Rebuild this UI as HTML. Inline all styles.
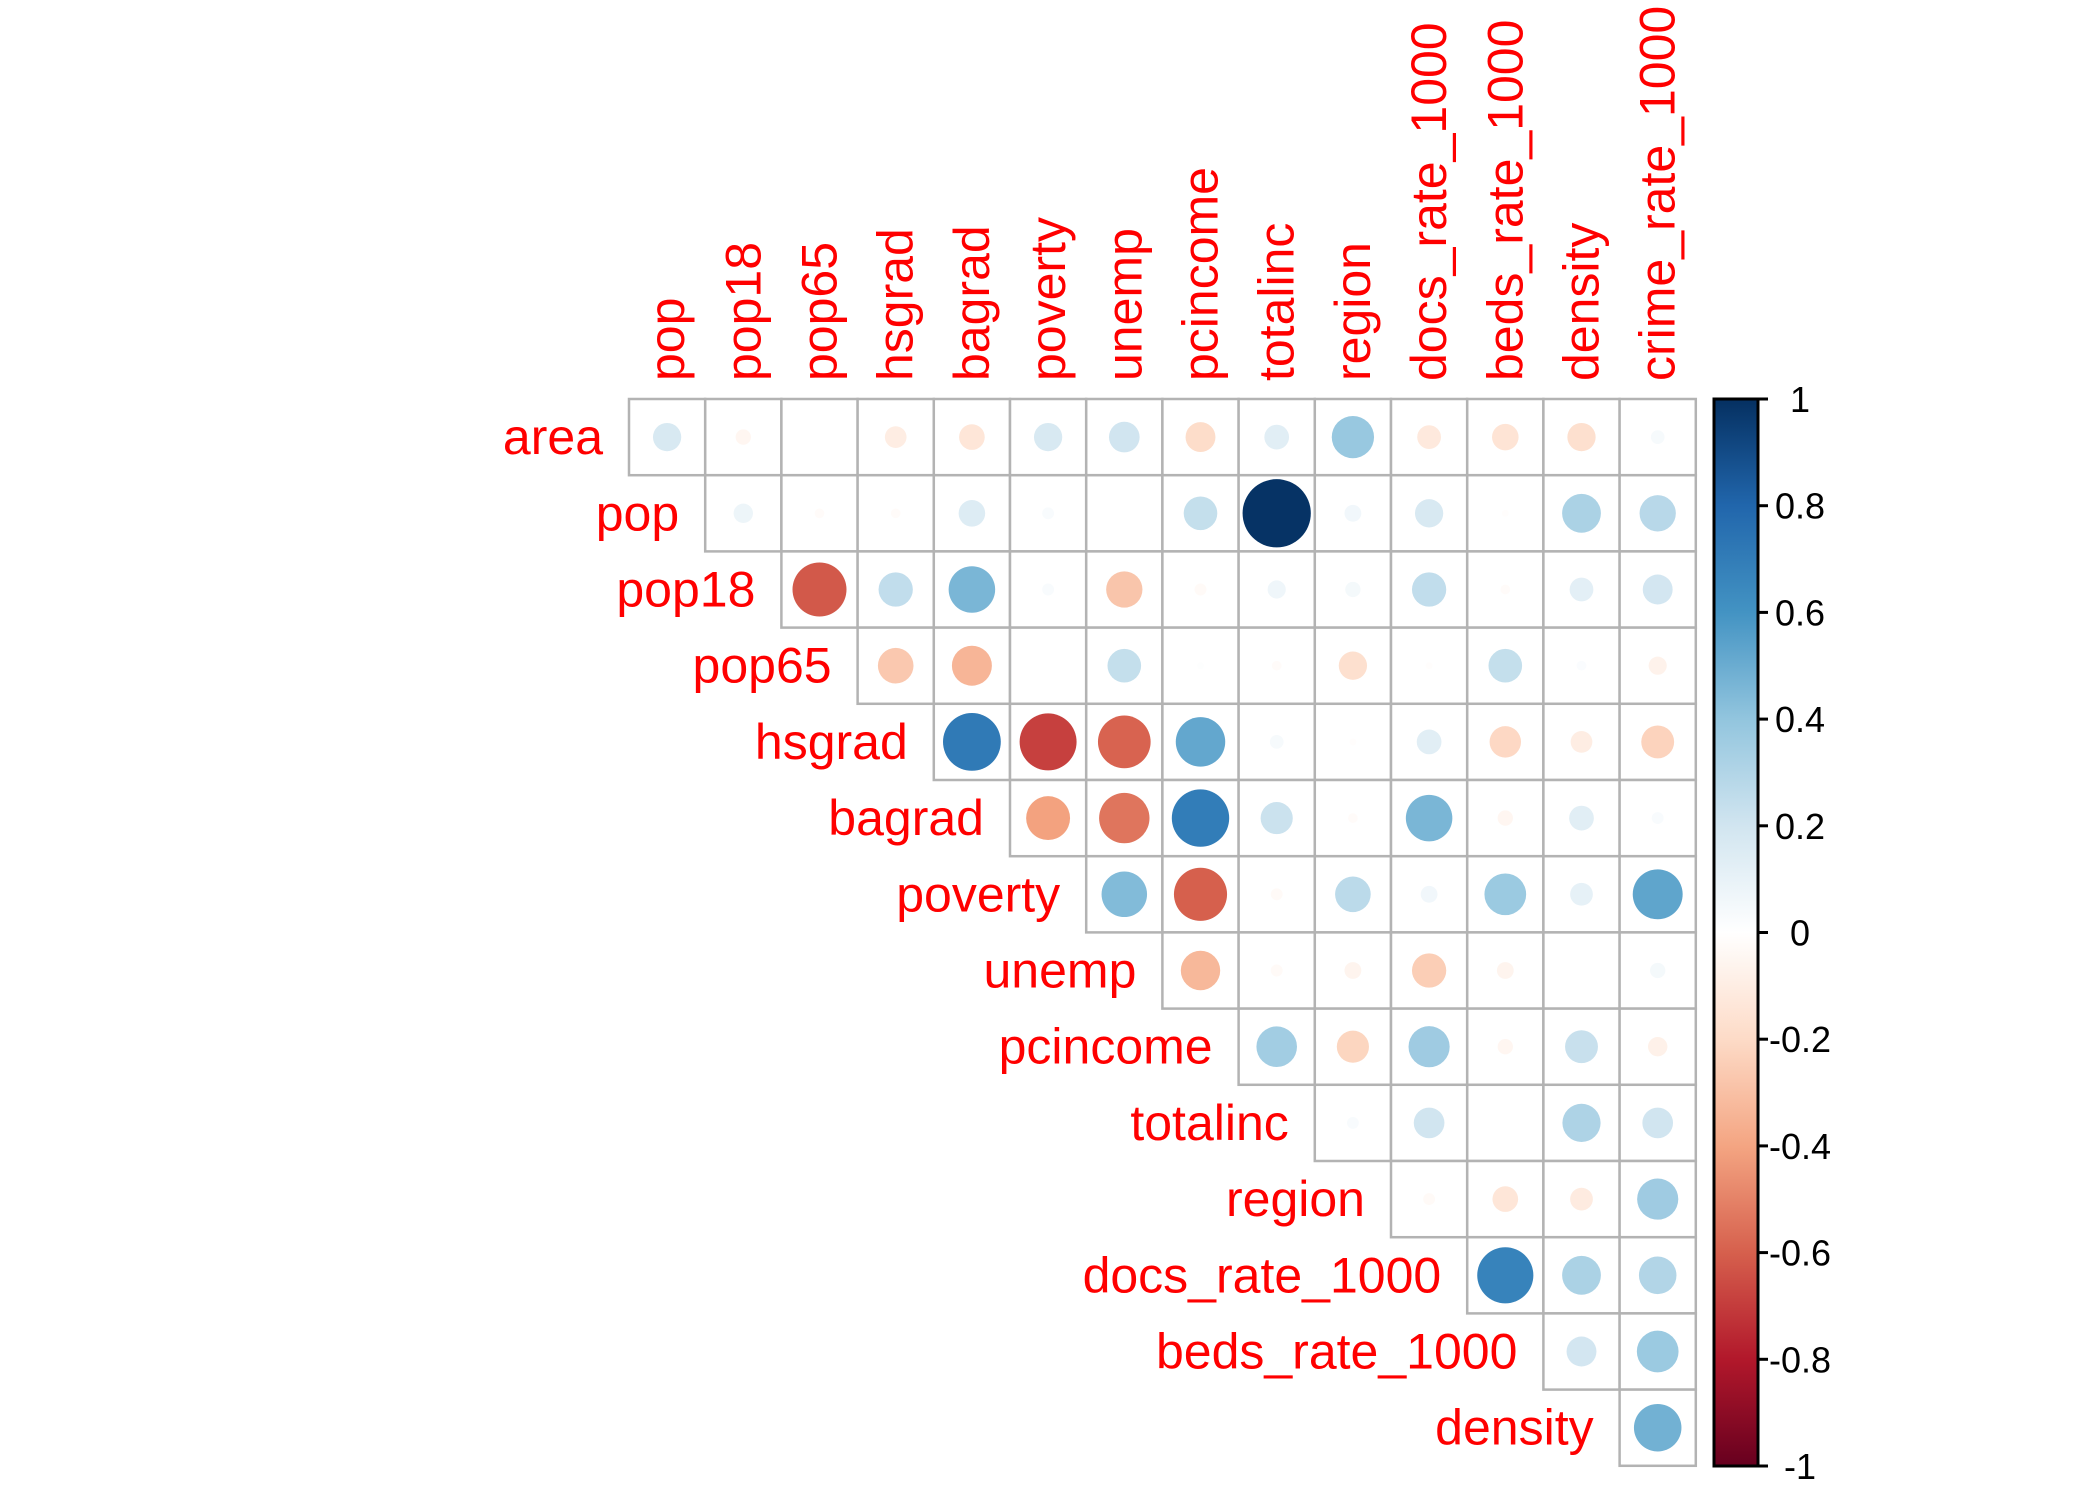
<!DOCTYPE html>
<html><head><meta charset="utf-8"><style>
html,body{margin:0;padding:0;background:#fff;}
svg{display:block;}
</style></head><body>
<svg id="chart" width="2100" height="1500" viewBox="0 0 2100 1500" xmlns="http://www.w3.org/2000/svg" font-family="'Liberation Sans', Arial, sans-serif">
<defs>
<linearGradient id="cbgrad" x1="0" y1="1" x2="0" y2="0">
<stop offset="0" stop-color="#67001F"/><stop offset="0.1" stop-color="#B2182B"/><stop offset="0.2" stop-color="#D6604D"/><stop offset="0.3" stop-color="#F4A582"/><stop offset="0.4" stop-color="#FDDBC7"/><stop offset="0.5" stop-color="#FFFFFF"/><stop offset="0.6" stop-color="#D1E5F0"/><stop offset="0.7" stop-color="#92C5DE"/><stop offset="0.8" stop-color="#4393C3"/><stop offset="0.9" stop-color="#2166AC"/><stop offset="1" stop-color="#053061"/>
</linearGradient>
</defs>
<g id="grid"></g>
<g id="circles"></g>
<g id="rowlabels"></g>
<g id="collabels"></g>
<g id="colorbar"></g>
</svg>
<script>
const rowNames = ["area","pop","pop18","pop65","hsgrad","bagrad","poverty","unemp","pcincome","totalinc","region","docs_rate_1000","beds_rate_1000","density"];
const colNames = ["pop","pop18","pop65","hsgrad","bagrad","poverty","unemp","pcincome","totalinc","region","docs_rate_1000","beds_rate_1000","density","crime_rate_1000"];
// upper-triangle correlations, row i lists values for columns i..13
const rArea = [0.17,-0.05,0.0,-0.1,-0.14,0.17,0.2,-0.19,0.13,0.38,-0.12,-0.15,-0.17,0.04];
const rPop = [0.08,-0.02,-0.02,0.15,0.03,0.0,0.24,0.99,0.06,0.17,-0.01,0.32,0.28];
const rPop18 = [-0.62,0.25,0.46,0.03,-0.28,-0.03,0.07,0.05,0.25,-0.02,0.12,0.19];
const rPop65 = [-0.27,-0.34,0.0,0.24,0.01,-0.02,-0.17,-0.01,0.24,0.02,-0.07];
const rHsgrad = [0.71,-0.69,-0.59,0.52,0.04,-0.01,0.13,-0.21,-0.1,-0.23];
const rBagrad = [-0.41,-0.54,0.7,0.22,-0.02,0.46,-0.05,0.13,0.03];
const rPoverty = [0.44,-0.6,-0.03,0.27,0.06,0.37,0.11,0.53];
const rUnemp = [-0.33,-0.03,-0.06,-0.25,-0.06,0.0,0.05];
const rPcincome = [0.35,-0.22,0.36,-0.05,0.23,-0.08];
const rTotalinc = [0.03,0.2,0.0,0.31,0.2];
const rRegion = [-0.03,-0.14,-0.11,0.36];
const rDocs = [0.67,0.32,0.3];
const rBeds = [0.19,0.37];
const rDensity = [0.48];
const corrRows = [rArea,rPop,rPop18,rPop65,rHsgrad,rBagrad,rPoverty,rUnemp,rPcincome,rTotalinc,rRegion,rDocs,rBeds,rDensity];
const cbTicks = [-1,-0.8,-0.6,-0.4,-0.2,0,0.2,0.4,0.6,0.8,1];
const cbTickLabels = ["-1","-0.8","-0.6","-0.4","-0.2","0","0.2","0.4","0.6","0.8","1"];

const NS="http://www.w3.org/2000/svg";
const X0=629, Y0=399, CELL=76.2;
const stops=["#67001F","#B2182B","#D6604D","#F4A582","#FDDBC7","#FFFFFF","#D1E5F0","#92C5DE","#4393C3","#2166AC","#053061"];
function hex(c){return [1,3,5].map(i=>parseInt(c.substr(i,2),16));}
function colorOf(v){
  const t=(v+1)/2*10; const i=Math.min(9,Math.floor(t)); const f=t-i;
  const a=hex(stops[i]), b=hex(stops[i+1]);
  return "rgb("+a.map((x,k)=>Math.round(x+(b[k]-x)*f)).join(",")+")";
}
const xPos=j=>X0+j*CELL, yPos=i=>Y0+i*CELL;
function mk(tag,attrs,parent){const e=document.createElementNS(NS,tag);for(const k in attrs)e.setAttribute(k,attrs[k]);parent.appendChild(e);return e;}
const gGrid=document.getElementById('grid'), gC=document.getElementById('circles');
const gR=document.getElementById('rowlabels'), gL=document.getElementById('collabels'), gB=document.getElementById('colorbar');
corrRows.forEach((row,i)=>{
  row.forEach((v,k)=>{
    const j=i+k;
    const r=mk('rect',{x:xPos(j),y:yPos(i),width:CELL,height:CELL,fill:'#fff',stroke:'#b3b3b3','stroke-width':2.5},gGrid);
    
    
    const c=mk('circle',{cx:xPos(j)+CELL/2,cy:yPos(i)+CELL/2,r:0.45*CELL*Math.sqrt(Math.abs(v)),fill:colorOf(v)},gC);
    
    
  });
  const t=mk('text',{x:xPos(i)-26,y:yPos(i)+CELL/2+17,'text-anchor':'end','font-size':50,fill:'#ff0000'},gR);
  t.textContent=rowNames[i];
  
  
});
colNames.forEach((n,j)=>{
  const cx=xPos(j)+CELL/2+17, y=381;
  const t=mk('text',{x:cx,y:y,transform:'rotate(-90 '+cx+' '+y+')','font-size':50,fill:'#ff0000'},gL);
  t.textContent=n;
  
  
});
const BX=1714, BW=44, BT=399, BBot=1466;
const cbY=v=>BBot-(v+1)/2*(BBot-BT);
const bar=mk('rect',{x:BX,y:BT,width:BW,height:BBot-BT,fill:'url(#cbgrad)',stroke:'#000','stroke-width':3},gB);


cbTicks.forEach((v,k)=>{
  const y=cbY(v);
  const l=mk('line',{x1:BX+BW,x2:BX+BW+10,y1:y,y2:y,stroke:'#000','stroke-width':3},gB);
  
  
  const t=mk('text',{x:1800,y:y+13,'text-anchor':'middle','font-size':36,fill:'#000'},gB);
  t.textContent=cbTickLabels[k];
  
  
});
</script>
</body></html>
